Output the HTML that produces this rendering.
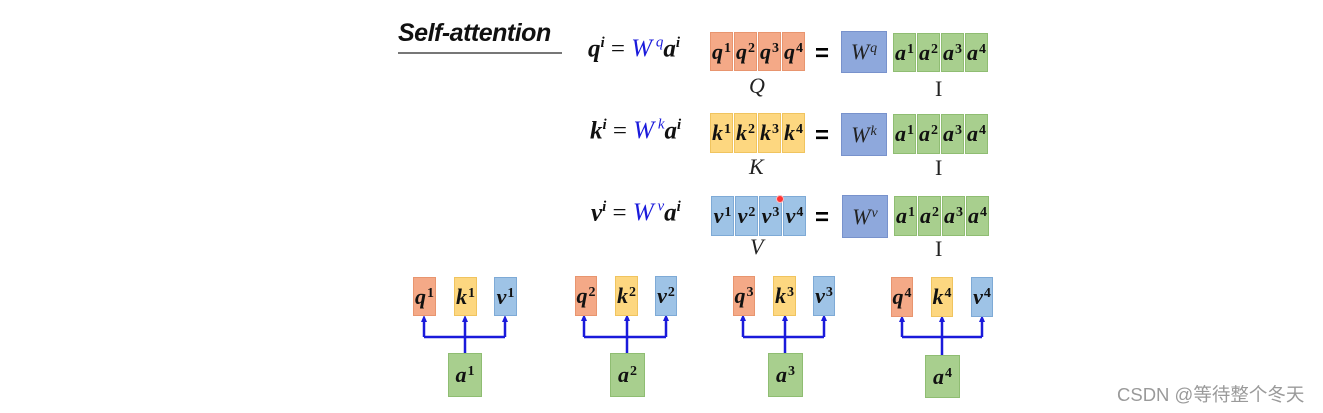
<!DOCTYPE html>
<html><head><meta charset="utf-8"><style>
html,body{margin:0;padding:0;background:#fff;}
body{width:1323px;height:413px;position:relative;overflow:hidden;font-family:"Liberation Serif",serif;}
.b{position:absolute;box-sizing:border-box;display:flex;align-items:center;justify-content:center;font-weight:bold;font-style:italic;font-size:22px;color:#111;}
.b sup{font-size:14px;font-style:normal;position:relative;top:-3px;margin-left:1px;}
.o{background:#f4a987;border:1px solid #e8956f;}
.y{background:#fdd780;border:1px solid #f0c45f;}
.bl{background:#9ec3e6;border:1px solid #7eaad6;}
.g{background:#a8cf8e;border:1px solid #8fbd72;}
.w{background:#8ea8dc;border:1px solid #7892cc;font-weight:normal;color:#222;}
.w sup{font-style:italic;}
.t{position:absolute;white-space:nowrap;}
.eq{font-weight:bold;font-style:italic;font-size:25px;color:#111;}
.eq sup{font-size:15px;}
.eq .bw{color:#1a1adb;font-weight:normal;}
.lab{font-style:italic;font-size:22px;color:#222;}
</style></head><body>
<div class="t" style="left:398px;top:19px;font-family:'Liberation Sans',sans-serif;font-weight:bold;font-style:italic;font-size:25px;color:#111;letter-spacing:-0.5px;">Self-attention</div>
<div style="position:absolute;left:398px;top:52px;width:164px;height:2px;background:#777;"></div>

<div class="t eq" style="left:588px;top:35px;">q<sup>i</sup> <span style="font-weight:normal;font-style:normal">=</span> <span class="bw">W<sup> q</sup></span>a<sup>i</sup></div>
<div class="t eq" style="left:590px;top:117px;">k<sup>i</sup> <span style="font-weight:normal;font-style:normal">=</span> <span class="bw">W<sup> k</sup></span>a<sup>i</sup></div>
<div class="t eq" style="left:591px;top:199px;">v<sup>i</sup> <span style="font-weight:normal;font-style:normal">=</span> <span class="bw">W<sup> v</sup></span>a<sup>i</sup></div>

<div class="b o" style="left:710px;top:32px;width:23px;height:39px;">q<sup>1</sup></div>
<div class="b o" style="left:734px;top:32px;width:23px;height:39px;">q<sup>2</sup></div>
<div class="b o" style="left:758px;top:32px;width:23px;height:39px;">q<sup>3</sup></div>
<div class="b o" style="left:782px;top:32px;width:23px;height:39px;">q<sup>4</sup></div>
<div class="b y" style="left:710px;top:113px;width:23px;height:40px;">k<sup>1</sup></div>
<div class="b y" style="left:734px;top:113px;width:23px;height:40px;">k<sup>2</sup></div>
<div class="b y" style="left:758px;top:113px;width:23px;height:40px;">k<sup>3</sup></div>
<div class="b y" style="left:782px;top:113px;width:23px;height:40px;">k<sup>4</sup></div>
<div class="b bl" style="left:711px;top:196px;width:23px;height:40px;">v<sup>1</sup></div>
<div class="b bl" style="left:735px;top:196px;width:23px;height:40px;">v<sup>2</sup></div>
<div class="b bl" style="left:759px;top:196px;width:23px;height:40px;">v<sup>3</sup></div>
<div class="b bl" style="left:783px;top:196px;width:23px;height:40px;">v<sup>4</sup></div>
<div style="position:absolute;left:776px;top:195px;width:6px;height:6px;border-radius:50%;background:#f33;border:1px solid #fbb;"></div>

<div class="t" style="left:815px;top:40px;font-size:24px;font-weight:bold;font-family:'Liberation Sans',sans-serif;">=</div>
<div class="t" style="left:815px;top:122px;font-size:24px;font-weight:bold;font-family:'Liberation Sans',sans-serif;">=</div>
<div class="t" style="left:815px;top:204px;font-size:24px;font-weight:bold;font-family:'Liberation Sans',sans-serif;">=</div>

<div class="b w" style="left:841px;top:31px;width:46px;height:42px;">W<sup> q</sup></div>
<div class="b w" style="left:841px;top:113px;width:46px;height:43px;">W<sup> k</sup></div>
<div class="b w" style="left:842px;top:195px;width:46px;height:43px;">W<sup> v</sup></div>

<div class="b g" style="left:893px;top:33px;width:23px;height:39px;">a<sup>1</sup></div>
<div class="b g" style="left:917px;top:33px;width:23px;height:39px;">a<sup>2</sup></div>
<div class="b g" style="left:941px;top:33px;width:23px;height:39px;">a<sup>3</sup></div>
<div class="b g" style="left:965px;top:33px;width:23px;height:39px;">a<sup>4</sup></div>
<div class="b g" style="left:893px;top:114px;width:23px;height:40px;">a<sup>1</sup></div>
<div class="b g" style="left:917px;top:114px;width:23px;height:40px;">a<sup>2</sup></div>
<div class="b g" style="left:941px;top:114px;width:23px;height:40px;">a<sup>3</sup></div>
<div class="b g" style="left:965px;top:114px;width:23px;height:40px;">a<sup>4</sup></div>
<div class="b g" style="left:894px;top:196px;width:23px;height:40px;">a<sup>1</sup></div>
<div class="b g" style="left:918px;top:196px;width:23px;height:40px;">a<sup>2</sup></div>
<div class="b g" style="left:942px;top:196px;width:23px;height:40px;">a<sup>3</sup></div>
<div class="b g" style="left:966px;top:196px;width:23px;height:40px;">a<sup>4</sup></div>

<div class="t lab" style="left:749px;top:73px;">Q</div>
<div class="t lab" style="left:749px;top:154px;">K</div>
<div class="t lab" style="left:750px;top:234px;">V</div>
<div class="t lab" style="left:935px;top:76px;font-style:normal;">I</div>
<div class="t lab" style="left:935px;top:155px;font-style:normal;">I</div>
<div class="t lab" style="left:935px;top:236px;font-style:normal;">I</div>

<svg style="position:absolute;left:0;top:0" width="1323" height="413">
<g stroke="#1a1adb" stroke-width="2.5" fill="none">
<path d="M424,337 H505 M465,337 V353 M424,337 V319 M465,337 V319 M505,337 V319"/>
<path d="M584,337 H666 M627,337 V353 M584,337 V318 M627,337 V318 M666,337 V318"/>
<path d="M743,337 H824 M785,337 V353 M743,337 V318 M785,337 V318 M824,337 V318"/>
<path d="M902,337 H982 M942,337 V355 M902,337 V319 M942,337 V319 M982,337 V319"/>
</g>
<g fill="#1a1adb">
<path d="M421,322 L424,315 L427,322Z"/><path d="M462,322 L465,315 L468,322Z"/><path d="M502,322 L505,315 L508,322Z"/>
<path d="M581,321 L584,314 L587,321Z"/><path d="M624,321 L627,314 L630,321Z"/><path d="M663,321 L666,314 L669,321Z"/>
<path d="M740,321 L743,314 L746,321Z"/><path d="M782,321 L785,314 L788,321Z"/><path d="M821,321 L824,314 L827,321Z"/>
<path d="M899,322 L902,315 L905,322Z"/><path d="M939,322 L942,315 L945,322Z"/><path d="M979,322 L982,315 L985,322Z"/>
</g>
</svg>

<div class="b o" style="left:413px;top:277px;width:23px;height:39px;">q<sup>1</sup></div>
<div class="b y" style="left:454px;top:277px;width:23px;height:39px;">k<sup>1</sup></div>
<div class="b bl" style="left:494px;top:277px;width:23px;height:39px;">v<sup>1</sup></div>
<div class="b g" style="left:448px;top:353px;width:34px;height:44px;">a<sup>1</sup></div>

<div class="b o" style="left:575px;top:276px;width:22px;height:40px;">q<sup>2</sup></div>
<div class="b y" style="left:615px;top:276px;width:23px;height:40px;">k<sup>2</sup></div>
<div class="b bl" style="left:655px;top:276px;width:22px;height:40px;">v<sup>2</sup></div>
<div class="b g" style="left:610px;top:353px;width:35px;height:44px;">a<sup>2</sup></div>

<div class="b o" style="left:733px;top:276px;width:22px;height:40px;">q<sup>3</sup></div>
<div class="b y" style="left:773px;top:276px;width:23px;height:40px;">k<sup>3</sup></div>
<div class="b bl" style="left:813px;top:276px;width:22px;height:40px;">v<sup>3</sup></div>
<div class="b g" style="left:768px;top:353px;width:35px;height:44px;">a<sup>3</sup></div>

<div class="b o" style="left:891px;top:277px;width:22px;height:40px;">q<sup>4</sup></div>
<div class="b y" style="left:931px;top:277px;width:22px;height:40px;">k<sup>4</sup></div>
<div class="b bl" style="left:971px;top:277px;width:22px;height:40px;">v<sup>4</sup></div>
<div class="b g" style="left:925px;top:355px;width:35px;height:43px;">a<sup>4</sup></div>

<div class="t" style="left:1117px;top:381px;font-family:'Liberation Sans','Noto Sans CJK SC',sans-serif;font-size:18.5px;color:#9a9a9a;">CSDN @等待整个冬天</div>
</body></html>
